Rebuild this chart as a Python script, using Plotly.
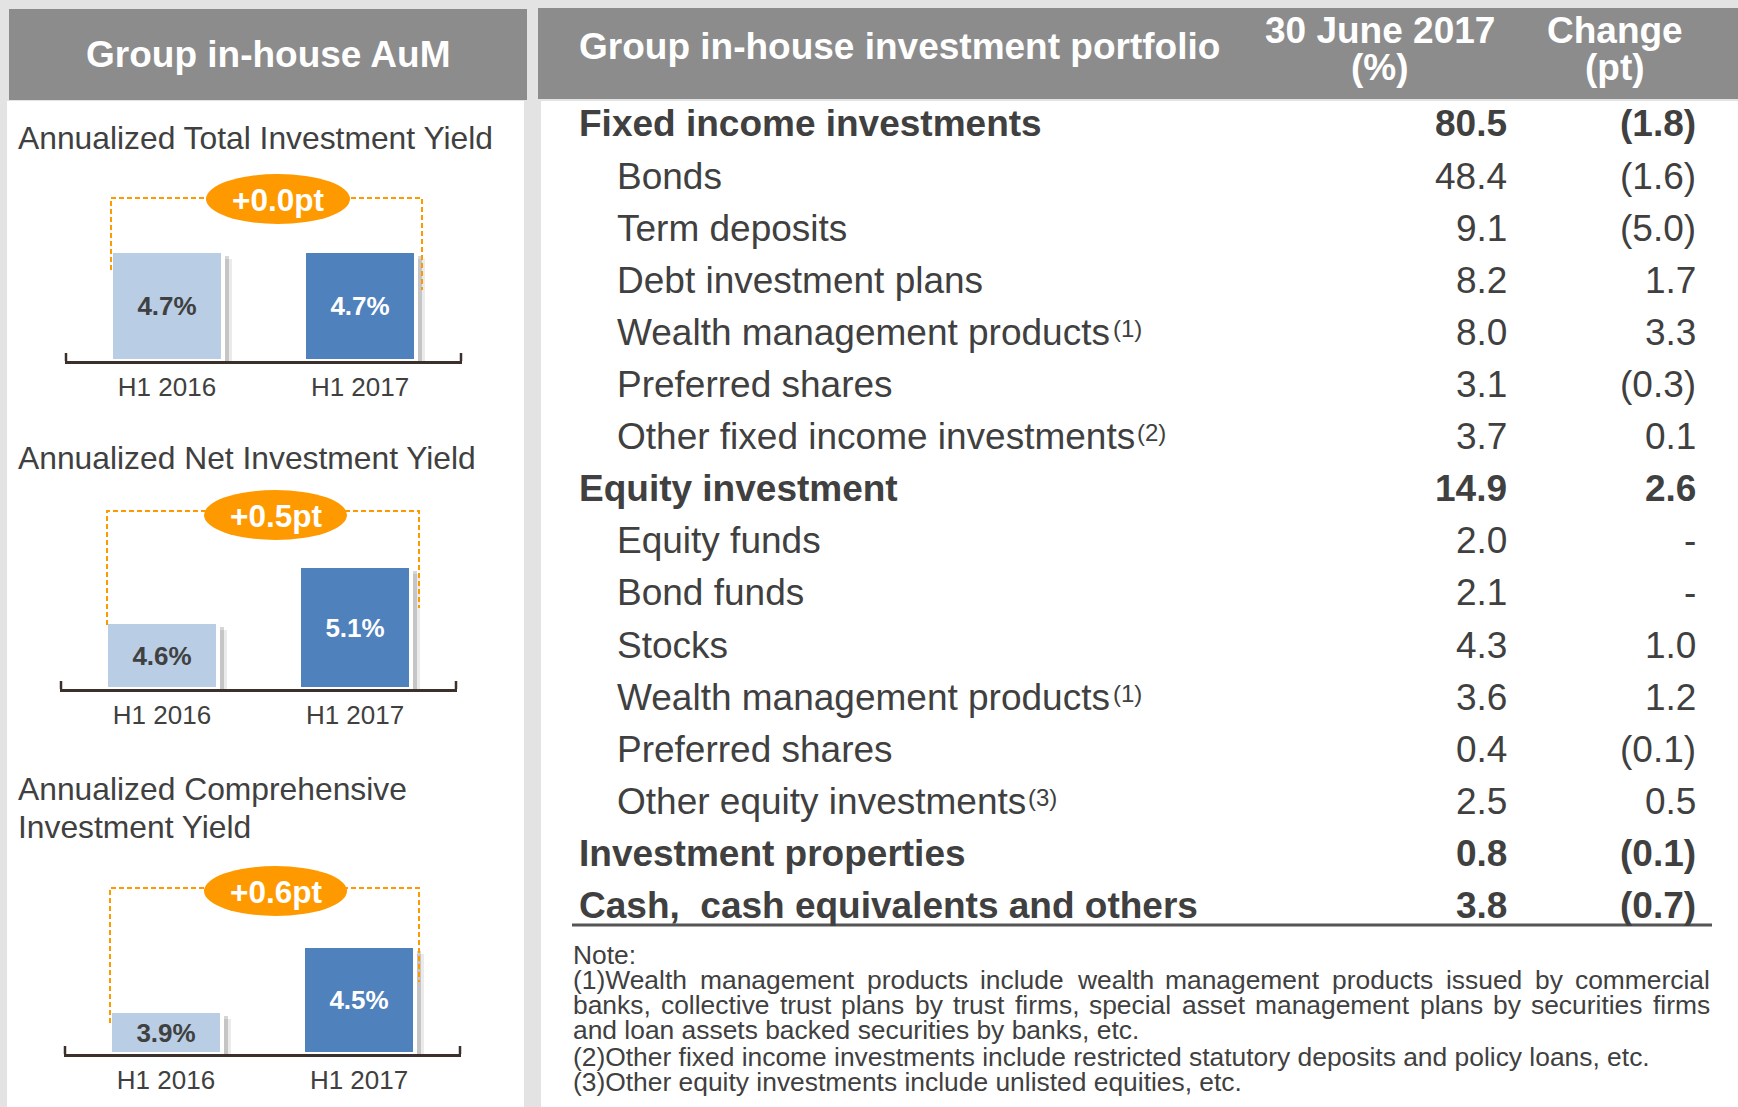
import plotly.graph_objects as go

W, H = 1738, 1107
FONT = "Liberation Sans, Arial, sans-serif"
TXT = "#404040"

# ---------------- data ----------------
periods = ["H1 2016", "H1 2017"]
total_yield = [4.7, 4.7]
net_yield = [4.6, 5.1]
comp_yield = [3.9, 4.5]
chart_titles = [["Annualized Total Investment Yield"],
                ["Annualized Net Investment Yield"],
                ["Annualized Comprehensive", "Investment Yield"]]

left_header = "Group in-house AuM"
table_header = "Group in-house investment portfolio"
col_headers = [["30 June 2017", "(%)"], ["Change", "(pt)"]]

row_labels = ["Fixed income investments", "Bonds", "Term deposits", "Debt investment plans",
              "Wealth management products", "Preferred shares", "Other fixed income investments",
              "Equity investment", "Equity funds", "Bond funds", "Stocks",
              "Wealth management products", "Preferred shares", "Other equity investments",
              "Investment properties", "Cash,  cash equivalents and others"]
row_notes = ["", "", "", "", "(1)", "", "(2)", "", "", "", "", "(1)", "", "(3)", "", ""]
row_level = [0, 1, 1, 1, 1, 1, 1, 0, 1, 1, 1, 1, 1, 1, 0, 0]
pct_values = [80.5, 48.4, 9.1, 8.2, 8.0, 3.1, 3.7, 14.9, 2.0, 2.1, 4.3, 3.6, 0.4, 2.5, 0.8, 3.8]
changes = [-1.8, -1.6, -5.0, 1.7, 3.3, -0.3, 0.1, 2.6, None, None, 1.0, 1.2, -0.1, 0.5, -0.1, -0.7]

note_lines = ["Note:",
              "(1)Wealth management products include wealth management products issued by commercial",
              "banks, collective trust plans by trust firms, special asset management plans by securities firms",
              "and loan assets backed securities by banks, etc.",
              "(2)Other fixed income investments include restricted statutory deposits and policy loans, etc.",
              "(3)Other equity investments include unlisted equities, etc."]
note_justify = [False, True, True, False, False, False]

# ---------------- helpers ----------------
ARIAL = {' ': 278, '!': 278, '(': 333, ')': 333, ',': 278, '-': 333, '.': 278, ':': 278, '%': 889,
         'A': 667, 'B': 667, 'C': 722, 'D': 722, 'E': 667, 'F': 611, 'G': 778, 'H': 722, 'I': 278,
         'J': 500, 'K': 667, 'L': 556, 'M': 833, 'N': 722, 'O': 778, 'P': 667, 'Q': 778, 'R': 722,
         'S': 667, 'T': 611, 'U': 722, 'V': 667, 'W': 944, 'X': 667, 'Y': 667, 'Z': 611,
         'a': 556, 'b': 556, 'c': 500, 'd': 556, 'e': 556, 'f': 278, 'g': 556, 'h': 556, 'i': 222,
         'j': 222, 'k': 500, 'l': 222, 'm': 833, 'n': 556, 'o': 556, 'p': 556, 'q': 556, 'r': 333,
         's': 500, 't': 278, 'u': 556, 'v': 500, 'w': 722, 'x': 500, 'y': 500, 'z': 500}


def tw(s, size):
    return sum(ARIAL.get(c, 556) for c in s) / 1000.0 * size


def px(x):
    return x / W


def py(y):
    return 1 - y / H


annotations = []
shapes = []


def ann(x, y, text, size, color=TXT, bold=False, xanchor="left"):
    annotations.append(dict(
        x=px(x), y=py(y), xref="paper", yref="paper", showarrow=False,
        text=("<b>%s</b>" % text) if bold else text, xanchor=xanchor, yanchor="middle",
        borderpad=0, font=dict(family=FONT, size=size, color=color)))


def rect(x0, y0, x1, y1, color):
    shapes.append(dict(type="rect", xref="paper", yref="paper", x0=px(x0), x1=px(x1),
                       y0=py(y1), y1=py(y0), fillcolor=color, line=dict(width=0), layer="below"))


def line(x0, y0, x1, y1, color, width, dash="solid"):
    shapes.append(dict(type="line", xref="paper", yref="paper", x0=px(x0), x1=px(x1),
                       y0=py(y0), y1=py(y1), line=dict(color=color, width=width, dash=dash),
                       layer="above"))


# ---------------- panels ----------------
BG = "#E3E3E3"
HEAD = "#8C8C8C"
rect(9, 9, 527, 100, HEAD)
rect(538, 8, W, 99, HEAD)
rect(7, 101, 524, H, "white")
rect(541, 101, W, H, "white")

ann(268, 54, left_header, 37, "white", True, "center")
ann(578, 46, table_header, 37, "white", True)
col_x = [1380, 1615]
for cx, (l1, l2) in zip(col_x, col_headers):
    ann(cx, 31, l1, 37, "white", True, "center")
    ann(cx, 67, l2, 37, "white", True, "center")

# ---------------- bar charts ----------------
fig = go.Figure()
BAR_COLORS = ["#B9CDE5", "#4F81BD"]
LABEL_COLORS = [TXT, "white"]
ORANGE = "#FF9900"

charts = [
    dict(values=total_yield, titles=chart_titles[0], title_y=[138],
         axl=65, axr=462, axy=361, ymin=3.7, ppu=110.0,
         ell=(206, 174, 350, 224), br=(111, 270, 198, 422, 290)),
    dict(values=net_yield, titles=chart_titles[1], title_y=[458],
         axl=60, axr=457, axy=689, ymin=4.0, ppu=112.0,
         ell=(204, 490, 347, 540), br=(107, 625, 511, 419, 608)),
    dict(values=comp_yield, titles=chart_titles[2], title_y=[789, 827],
         axl=64, axr=461, axy=1054, ymin=3.5, ppu=108.3,
         ell=(204, 866, 347, 916), br=(110, 1023, 888, 419, 982)),
]

XR = [-0.528, 1.528]
UNIT_PX = 193.0
BW = 112 / UNIT_PX
PLOT_H = 175

for i, c in enumerate(charts, start=1):
    xa = "x" if i == 1 else "x%d" % i
    ya = "y" if i == 1 else "y%d" % i
    vals = c["values"]
    # shadows
    for sh_dx, sh_dy, alpha in [(9, 8, 0.08), (6, 5, 0.16)]:
        fig.add_trace(go.Bar(
            x=periods, y=[v - c["ymin"] - sh_dy / c["ppu"] for v in vals], base=c["ymin"],
            width=BW, offset=-BW / 2 + sh_dx / UNIT_PX,
            marker=dict(color="rgba(0,0,0,%.2f)" % alpha, line=dict(width=0)),
            hoverinfo="skip", showlegend=False, xaxis=xa, yaxis=ya))
    fig.add_trace(go.Bar(
        x=periods, y=[v - c["ymin"] for v in vals], base=c["ymin"],
        width=BW, offset=-BW / 2,
        marker=dict(color=BAR_COLORS, line=dict(color="white", width=4)),
        text=["%.1f%%" % v for v in vals], textposition="inside", insidetextanchor="middle",
        textangle=0, textfont=dict(family=FONT, size=26, color=LABEL_COLORS, weight="bold"),
        hoverinfo="skip", showlegend=False, xaxis=xa, yaxis=ya))

    xkey = "xaxis" if i == 1 else "xaxis%d" % i
    ykey = "yaxis" if i == 1 else "yaxis%d" % i
    fig.update_layout(**{
        xkey: dict(domain=[px(c["axl"]), px(c["axr"])], anchor=ya, type="category",
                   range=XR, showline=True, linecolor="#3B302C", linewidth=2.5,
                   ticks="", showgrid=False, zeroline=False, ticklabelstandoff=1,
                   tickfont=dict(family=FONT, size=26, color=TXT), fixedrange=True),
        ykey: dict(domain=[py(c["axy"]), py(c["axy"] - PLOT_H)], anchor=xa, visible=False,
                   range=[c["ymin"], c["ymin"] + PLOT_H / c["ppu"]], fixedrange=True),
    })
    # axis end ticks
    line(c["axl"] + 1, c["axy"], c["axl"] + 1, c["axy"] - 8, "#3B302C", 2.5)
    line(c["axr"] - 1, c["axy"], c["axr"] - 1, c["axy"] - 8, "#3B302C", 2.5)
    # titles
    for t, ty in zip(c["titles"], c["title_y"]):
        ann(17, ty, t, 31.8)
    # dashed bracket
    bl, blb, bt, brx, brb = c["br"]
    shapes.append(dict(type="path", xref="paper", yref="paper",
                       path="M %f,%f L %f,%f L %f,%f L %f,%f" % (
                           px(bl), py(blb), px(bl), py(bt), px(brx), py(bt), px(brx), py(brb)),
                       line=dict(color=ORANGE, width=2, dash="5px,3px"), layer="above"))
    # ellipse and change text
    ex0, ey0, ex1, ey1 = c["ell"]
    shapes.append(dict(type="circle", xref="paper", yref="paper", x0=px(ex0), x1=px(ex1),
                       y0=py(ey1), y1=py(ey0), fillcolor=ORANGE, line=dict(width=0),
                       layer="above"))
    diff = vals[1] - vals[0]
    ann((ex0 + ex1) / 2, (ey0 + ey1) / 2 + 1, "%s%.1fpt" % ("+" if diff >= 0 else "-", abs(diff)),
        31.5, "white", True, "center")

# ---------------- table ----------------
ROW_Y0, ROW_STEP = 124, 52.1
for k, lab in enumerate(row_labels):
    y = ROW_Y0 + ROW_STEP * k
    bold = row_level[k] == 0
    x0 = 578 if bold else 616
    ann(x0, y, lab, 37, TXT, bold)
    if row_notes[k]:
        ann(x0 + tw(lab, 37) + 2, y - 4, row_notes[k], 24, TXT)
    ann(1508, y, "%.1f" % pct_values[k], 37, TXT, bold, "right")
    ch = changes[k]
    if ch is None:
        s = "-"
    elif ch < 0:
        s = "(%.1f)" % abs(ch)
    else:
        s = "%.1f" % ch
    ann(1697, y, s, 37, TXT, bold, "right")

line(572, 925, 1712, 925, "#555555", 3)

# notes
NOTE_X0, NOTE_X1 = 572, 1709
NOTE_SIZE = 26.4
note_y = [955, 980, 1005, 1030, 1057, 1082]
for txt, ny, just in zip(note_lines, note_y, note_justify):
    if just:
        words = txt.split(" ")
        total = sum(tw(w, NOTE_SIZE) for w in words)
        gap = (NOTE_X1 - NOTE_X0 - total) / (len(words) - 1)
        x = NOTE_X0
        for w in words:
            ann(x, ny, w, NOTE_SIZE, TXT)
            x += tw(w, NOTE_SIZE) + gap
    else:
        ann(NOTE_X0, ny, txt, NOTE_SIZE, TXT)

fig.update_layout(
    width=W, height=H, margin=dict(l=0, r=0, t=0, b=0),
    paper_bgcolor=BG, plot_bgcolor="rgba(0,0,0,0)",
    barmode="overlay", bargap=0, showlegend=False,
    uniformtext=dict(minsize=26, mode="show"),
    shapes=shapes, annotations=annotations,
)

fig.write_html("out.html", config={"displayModeBar": False},
               post_script="document.body.style.margin='0px';")
